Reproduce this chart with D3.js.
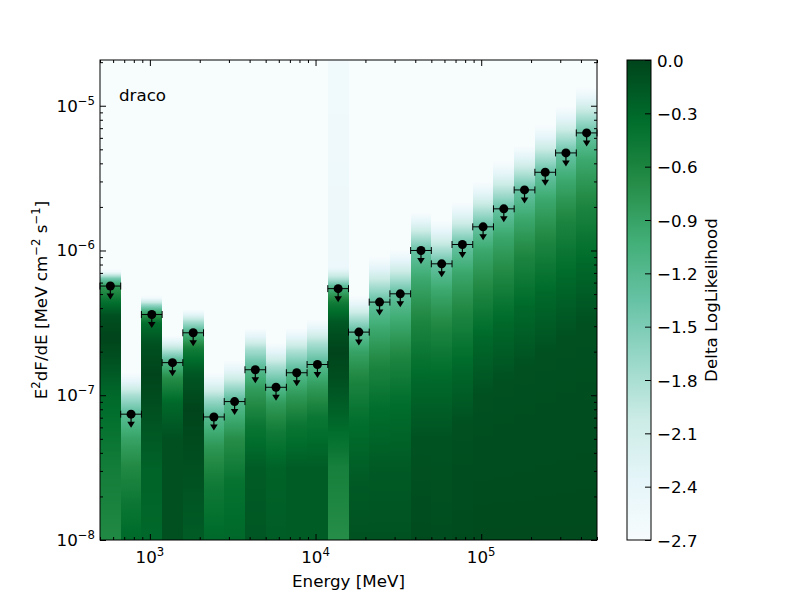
<!DOCTYPE html>
<meta charset="utf-8">
<style>
  html, body { margin:0; background:#fff; }
  svg { font-family: "DejaVu Sans", sans-serif; }
</style>
<svg width="800" height="600"></svg>
<script src="https://d3js.org/d3.v7.min.js"></script>
<script>

// energy bin edges [MeV], 8 bins per decade
var energyEdges = [500, 666.8, 889.1, 1185.7, 1581.1, 2108.5, 2811.7, 3749.5,
                   5000, 6667.6, 8891.4, 11856.8, 15811.4, 21084.9, 28117, 37494.7,
                   50000, 66676, 88914, 118568, 158114, 210849, 281171, 374947, 500000];

// 95% upper limits on E^2 dF/dE [MeV cm^-2 s^-1]
var upperLimits = [5.68e-7, 7.40e-8, 3.61e-7, 1.68e-7, 2.70e-7, 7.08e-8, 9.04e-8, 1.50e-7,
                   1.135e-7, 1.43e-7, 1.63e-7, 5.45e-7, 2.73e-7, 4.40e-7, 5.02e-7, 1.0e-6,
                   8.09e-7, 1.10e-6, 1.457e-6, 1.94e-6, 2.62e-6, 3.47e-6, 4.72e-6, 6.49e-6];

// likelihood profile per bin: [log10 flux, delta logL]
var profiles = [
  [[-8,-0.65],[-7.45,-0.5],[-7.0,-0.3],[-6.75,-0.1],[-6.6,0],[-6.45,-0.1],[-6.35,-0.4],[-6.25,-0.8],[-6.19,-1.5],[-6.14,-2.7]],
  [[-8,-0.3],[-7.75,-0.45],[-7.5,-0.65],[-7.3,-0.9],[-7.13,-1.25],[-7.0,-1.8],[-6.85,-2.7]],
  [[-8,-0.3],[-7.5,-0.25],[-7.1,-0.1],[-6.85,0],[-6.65,-0.1],[-6.5,-0.35],[-6.44,-0.8],[-6.38,-1.6],[-6.32,-2.7]],
  [[-8,-0.1],[-7.3,-0.1],[-7.05,-0.3],[-6.88,-0.7],[-6.77,-1.15],[-6.68,-1.9],[-6.59,-2.7]],
  [[-8,-0.2],[-7.5,-0.1],[-7.1,0],[-6.85,-0.15],[-6.68,-0.5],[-6.57,-1.1],[-6.49,-1.8],[-6.41,-2.7]],
  [[-8,-0.3],[-7.6,-0.5],[-7.35,-0.8],[-7.15,-1.2],[-7.03,-1.7],[-6.94,-2.2],[-6.85,-2.7]],
  [[-8,-0.3],[-7.6,-0.4],[-7.3,-0.7],[-7.05,-1.2],[-6.93,-1.8],[-6.84,-2.3],[-6.76,-2.7]],
  [[-8,-0.15],[-7.5,-0.2],[-7.2,-0.45],[-6.95,-0.85],[-6.82,-1.2],[-6.68,-1.8],[-6.54,-2.7]],
  [[-8,-0.2],[-7.5,-0.25],[-7.25,-0.5],[-7.05,-0.85],[-6.94,-1.2],[-6.8,-1.8],[-6.64,-2.7]],
  [[-8,-0.2],[-7.5,-0.2],[-7.2,-0.45],[-6.98,-0.85],[-6.84,-1.2],[-6.7,-1.8],[-6.54,-2.7]],
  [[-8,-0.2],[-7.5,-0.2],[-7.15,-0.45],[-6.93,-0.85],[-6.79,-1.2],[-6.64,-1.8],[-6.48,-2.7]],
  [[-8,-0.7],[-7.5,-0.55],[-7.2,-0.3],[-6.9,-0.1],[-6.7,0],[-6.5,-0.15],[-6.36,-0.5],[-6.27,-1.0],[-6.2,-1.8],[-6.12,-2.5],[-4.68,-2.58]],
  [[-8,-0.12],[-7.6,-0.18],[-7.2,-0.35],[-6.9,-0.6],[-6.7,-0.9],[-6.56,-1.3],[-6.45,-1.9],[-6.32,-2.7]],
  [[-8,-0.12],[-7.5,-0.18],[-7.1,-0.35],[-6.8,-0.6],[-6.55,-0.95],[-6.36,-1.3],[-6.2,-2.0],[-6.05,-2.7]],
  [[-8,-0.12],[-7.5,-0.18],[-7.05,-0.35],[-6.75,-0.6],[-6.5,-0.95],[-6.3,-1.3],[-6.15,-2.0],[-6.0,-2.7]],
  [[-8,-0.06],[-7.3,-0.12],[-6.9,-0.3],[-6.5,-0.6],[-6.2,-0.95],[-6.0,-1.35],[-5.87,-2.0],[-5.74,-2.7]],
  [[-8,-0.08],[-7.3,-0.12],[-6.9,-0.3],[-6.55,-0.6],[-6.28,-0.95],[-6.09,-1.35],[-5.95,-2.0],[-5.8,-2.7]],
  [[-8,-0.06],[-7.2,-0.1],[-6.8,-0.3],[-6.45,-0.6],[-6.15,-0.95],[-5.96,-1.35],[-5.82,-2.0],[-5.67,-2.7]],
  [[-8,-0.05],[-7.0,-0.1],[-6.6,-0.3],[-6.3,-0.6],[-6.0,-0.95],[-5.83,-1.35],[-5.68,-2.0],[-5.53,-2.7]],
  [[-8,-0.05],[-6.9,-0.1],[-6.5,-0.3],[-6.2,-0.6],[-5.9,-0.95],[-5.71,-1.35],[-5.55,-2.0],[-5.39,-2.7]],
  [[-8,-0.05],[-6.8,-0.1],[-6.4,-0.3],[-6.05,-0.6],[-5.78,-0.95],[-5.58,-1.35],[-5.43,-2.0],[-5.28,-2.7]],
  [[-8,-0.05],[-6.7,-0.1],[-6.3,-0.3],[-5.95,-0.6],[-5.65,-0.95],[-5.46,-1.35],[-5.3,-2.0],[-5.14,-2.7]],
  [[-8,-0.05],[-6.6,-0.1],[-6.2,-0.3],[-5.8,-0.6],[-5.52,-0.95],[-5.33,-1.35],[-5.17,-2.0],[-5.01,-2.7]],
  [[-8,-0.05],[-6.5,-0.1],[-6.1,-0.3],[-5.7,-0.6],[-5.38,-0.95],[-5.19,-1.35],[-5.03,-2.0],[-4.88,-2.7]]
];

var xDomain = [500, 5e5],
    yDomain = [1e-8, 2.07e-5],
    cbarDomain = [-2.7, 0],
    cbarTicks = [0, -0.3, -0.6, -0.9, -1.2, -1.5, -1.8, -2.1, -2.4, -2.7],
    xTickExps = [3, 4, 5],
    yTickExps = [-8, -7, -6, -5],
    bugn = ["#f7fcfd", "#e5f5f9", "#ccece6", "#99d8c9", "#66c2a4", "#41ae76", "#238b45", "#006d2c", "#00441b"];

var svg = d3.select("svg"),
    mL = 100, mR = 597, mT = 60, mB = 540,
    fs = 16.7;

var x = d3.scaleLog().domain(xDomain).range([mL, mR]),
    y = d3.scaleLog().domain(yDomain).range([mB, mT]);

var cmap = d3.scaleLinear()
    .domain(d3.range(bugn.length).map(function(i) { return cbarDomain[0] + i * (cbarDomain[1] - cbarDomain[0]) / (bugn.length - 1); }))
    .range(bugn)
    .clamp(true);

var defs = svg.append("defs");
var lo = Math.log10(yDomain[0]), hi = Math.log10(yDomain[1]);

// likelihood columns
profiles.forEach(function(p, i) {
  var prof = d3.scaleLinear().domain(p.map(function(s) { return s[0]; }))
      .range(p.map(function(s) { return s[1]; })).clamp(true);
  var grad = defs.append("linearGradient")
      .attr("id", "col" + i)
      .attr("gradientUnits", "userSpaceOnUse")
      .attr("x1", 0).attr("x2", 0)
      .attr("y1", mB).attr("y2", mT);
  d3.range(0, 201).forEach(function(k) {
    var lf = lo + k / 200 * (hi - lo);
    grad.append("stop").attr("offset", k / 200).attr("stop-color", cmap(prof(lf)));
  });
  svg.append("rect")
      .attr("x", x(energyEdges[i]))
      .attr("width", x(energyEdges[i + 1]) - x(energyEdges[i]) + 0.3)
      .attr("y", mT).attr("height", mB - mT)
      .attr("fill", "url(#col" + i + ")")
      .attr("shape-rendering", "crispEdges");
});

// axes ticks (inward, all four sides)
function isMajor(d) { var l = Math.log10(d); return Math.abs(l - Math.round(l)) < 1e-6; }
function ticks(axis, scale, tx, ty, attr, sign) {
  var g = svg.append("g").attr("transform", "translate(" + tx + "," + ty + ")")
      .call(axis(scale).tickValues(scale.ticks()).tickFormat("").tickSizeOuter(0).tickSizeInner(0));
  g.select(".domain").remove();
  g.selectAll(".tick line")
      .attr(attr, function(d) { return sign * (isMajor(d) ? 6 : 3); })
      .attr("stroke", "#000");
}
ticks(d3.axisBottom, x, 0, mB, "y2", -1);
ticks(d3.axisTop, x, 0, mT, "y2", 1);
ticks(d3.axisLeft, y, mL, 0, "x2", 1);
ticks(d3.axisRight, y, mR, 0, "x2", -1);

svg.append("rect")
    .attr("x", mL).attr("y", mT)
    .attr("width", mR - mL).attr("height", mB - mT)
    .attr("fill", "none").attr("stroke", "#000").attr("stroke-width", 1);

// tick labels
function powLabel(sel, e) {
  sel.append("tspan").text("10");
  sel.append("tspan").attr("font-size", fs * 0.7).attr("dy", -7).text(e < 0 ? "\u2212" + (-e) : e);
}
xTickExps.forEach(function(e) {
  svg.append("text").attr("x", x(Math.pow(10, e))).attr("y", 563)
      .attr("text-anchor", "middle").attr("font-size", fs).call(powLabel, e);
});
yTickExps.forEach(function(e) {
  svg.append("text").attr("x", 95).attr("y", y(Math.pow(10, e)) + 6)
      .attr("text-anchor", "end").attr("font-size", fs).call(powLabel, e);
});

// axis labels
svg.append("text").attr("x", (mL + mR) / 2).attr("y", 587)
    .attr("text-anchor", "middle").attr("font-size", fs).text("Energy [MeV]");

var yl = svg.append("text").attr("transform", "translate(47," + (mT + mB) / 2 + ") rotate(-90)")
    .attr("text-anchor", "middle").attr("font-size", fs);
yl.append("tspan").text("E");
yl.append("tspan").attr("font-size", fs * 0.7).attr("dy", -7).text("2");
yl.append("tspan").attr("dy", 7).text("dF/dE [MeV cm");
yl.append("tspan").attr("font-size", fs * 0.7).attr("dy", -7).text("\u22122");
yl.append("tspan").attr("dy", 7).text(" s");
yl.append("tspan").attr("font-size", fs * 0.7).attr("dy", -7).text("\u22121");
yl.append("tspan").attr("dy", 7).text("]");

svg.append("text").attr("x", 119).attr("y", 101).attr("font-size", fs).text("draco");

// upper limit markers
var pts = svg.append("g");
upperLimits.forEach(function(v, i) {
  var x0 = x(energyEdges[i]), x1 = x(energyEdges[i + 1]),
      px = x(Math.sqrt(energyEdges[i] * energyEdges[i + 1])), py = y(v);
  pts.append("line").attr("x1", x0).attr("x2", x1).attr("y1", py).attr("y2", py).attr("stroke", "#000");
  [x0, x1].forEach(function(xc) {
    pts.append("line").attr("x1", xc).attr("x2", xc).attr("y1", py - 3.5).attr("y2", py + 3.5).attr("stroke", "#000");
  });
  pts.append("line").attr("x1", px).attr("x2", px).attr("y1", py).attr("y2", py + 9).attr("stroke", "#000").attr("stroke-width", 1.2);
  pts.append("path").attr("d", "M" + (px - 3.8) + "," + (py + 7.5) + "L" + (px + 3.8) + "," + (py + 7.5) + "L" + px + "," + (py + 13.5) + "Z").attr("fill", "#000");
  pts.append("circle").attr("cx", px).attr("cy", py).attr("r", 4.5).attr("fill", "#000");
});

// colorbar
var cbx = 627, cbw = 24;
var cScale = d3.scaleLinear().domain(cbarDomain).range([mB, mT]);
var cg = defs.append("linearGradient").attr("id", "cbar")
    .attr("x1", 0).attr("x2", 0).attr("y1", 1).attr("y2", 0);
bugn.forEach(function(c, i) {
  cg.append("stop").attr("offset", i / (bugn.length - 1)).attr("stop-color", c);
});
svg.append("rect").attr("x", cbx).attr("y", mT).attr("width", cbw).attr("height", mB - mT)
    .attr("fill", "url(#cbar)").attr("stroke", "#000").attr("stroke-width", 1);

var cax = svg.append("g").attr("transform", "translate(" + (cbx + cbw) + ",0)")
    .call(d3.axisRight(cScale).tickValues(cbarTicks).tickSizeInner(-6).tickSizeOuter(0)
      .tickPadding(6).tickFormat(d3.format(".1f")));
cax.select(".domain").remove();
cax.selectAll(".tick line").attr("stroke", "#000");
cax.selectAll(".tick text").attr("font-size", fs).attr("font-family", "DejaVu Sans").attr("fill", "#000").attr("dy", "0.36em");

svg.append("text").attr("transform", "translate(717," + (mT + mB) / 2 + ") rotate(-90)")
    .attr("text-anchor", "middle").attr("font-size", fs).text("Delta LogLikelihood");

</script>
